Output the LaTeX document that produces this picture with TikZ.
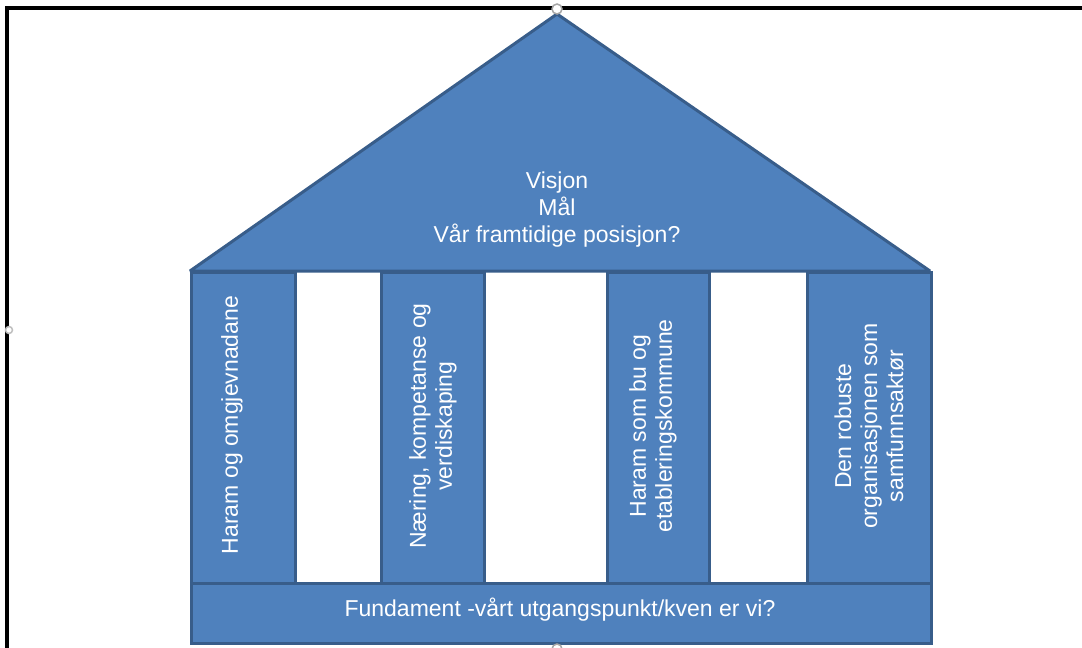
\documentclass[tikz,border=0pt]{standalone}
\usepackage{fontspec}
\setmainfont{Liberation Sans}
\definecolor{hfill}{HTML}{4F81BD}
\definecolor{hline}{HTML}{385D8A}
\begin{document}
\begin{tikzpicture}[x=1pt,y=-1pt,
  part/.style={draw=hline,fill=hfill,line width=3pt,line join=miter},
  block/.style={part,rectangle,inner sep=0pt,anchor=north west},
  lbl/.style={text=white,align=center,inner sep=0pt,font=\fontsize{23}{27}\selectfont},
  vlbl/.style={lbl,rotate=90,font=\fontsize{23}{26}\selectfont},
  handle/.style={draw=gray!70,line width=1.5pt,fill=white,circle,minimum size=10pt,inner sep=0pt}]
\useasboundingbox (0,0) rectangle (1082,648);
% frame
\draw[line width=3.4pt,black] (7,648) -- (7,8) -- (1082,8);
% roof
\coordinate (apex) at (557,14);
\coordinate (rl) at (190,271);
\coordinate (rr) at (930,271);
\draw[part,line join=bevel] (apex) -- (rr) -- (rl) -- cycle;
\node[lbl] (roof) at (557,210) {Visjon\\Mål\\Vår framtidige posisjon?};
% pillars
\node[block,minimum width=104pt,minimum height=311pt] (p1) at (190,271) {};
\node[block,minimum width=103pt,minimum height=311pt] (p2) at (380,271) {};
\node[block,minimum width=102pt,minimum height=311pt] (p3) at (606,271) {};
\node[block,minimum width=124pt,minimum height=311pt] (p4) at (806,271) {};
\node[vlbl] (t1) at (232,425) {Haram og omgjevnadane};
\node[vlbl] (t2) at (433,426) {Næring, kompetanse og\\verdiskaping};
\node[vlbl] (t3) at (653,426) {Haram som bu og\\etableringskommune};
\node[vlbl] (t4) at (869,426) {Den robuste\\organisasjonen som\\samfunnsaktør};
% foundation
\node[block,minimum width=740pt,minimum height=60pt] (base) at (190,582) {};
\node[lbl] (tb) at (560,610) {Fundament -vårt utgangspunkt/kven er vi?};
% selection handles
\node[handle] (h1) at (557,9) {};
\node[handle,minimum size=7pt,draw=gray!50] (h2) at (9,330) {};
\node[handle] (h3) at (557,649) {};
\end{tikzpicture}
\end{document}
